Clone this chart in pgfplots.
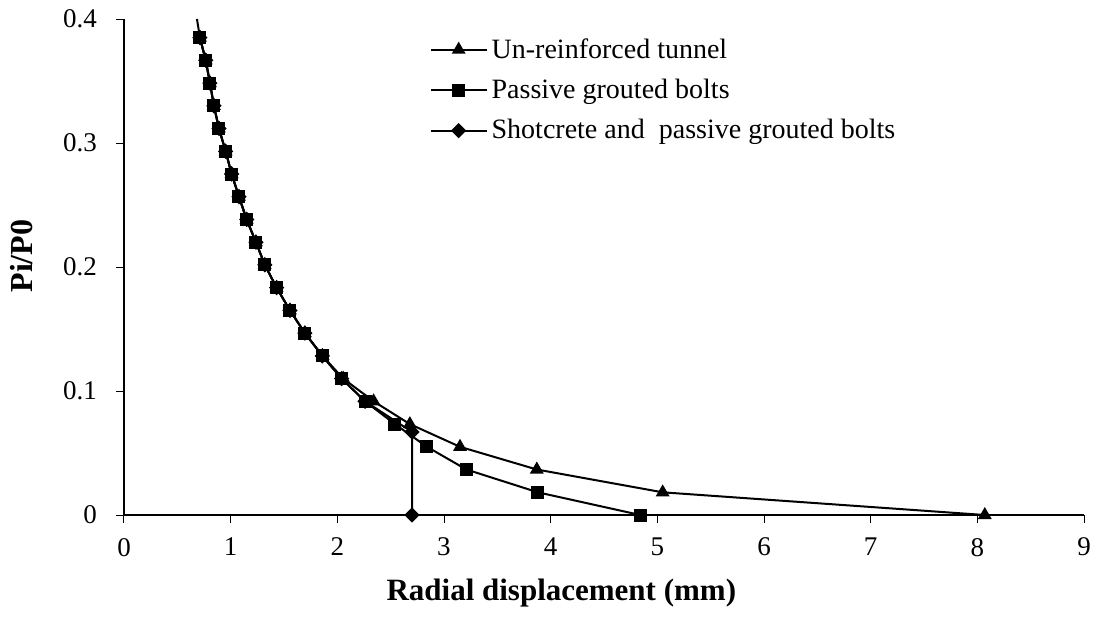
\documentclass[border=0pt]{standalone}
\usepackage{fontspec}
\setmainfont{Liberation Serif}
\usepackage{pgfplots}
\pgfplotsset{compat=1.18}

\begin{document}
\begin{tikzpicture}
\begin{axis}[
    at={(0,0)}, anchor=south west,
    scale only axis, width=480pt, height=248pt,
    xmin=0, xmax=9, ymin=0, ymax=0.4,
    xtick={0,1,...,9}, ytick={0,0.1,0.2,0.3,0.4},
    axis lines=left, axis line style={-, line width=0.8pt, black},
    tick align=outside, major tick length=4pt,
    tick style={black, line width=0.5pt},
    /pgf/number format/assume math mode=true,
    /pgf/number format/fixed,
    tick label style={font=\fontsize{13.5}{15}\selectfont, black},
    xticklabel style={yshift=-4pt},
    yticklabel style={xshift=-6pt},
    xlabel={Radial displacement (mm)},
    ylabel={Pi/P0},
    xlabel style={font=\fontsize{15.5}{18}\selectfont\bfseries, at={(axis cs:4.1,0)}, anchor=center, yshift=-39pt},
    ylabel style={font=\fontsize{16}{18}\selectfont\bfseries, at={(axis description cs:-0.10625,0.522)}, anchor=center},
    legend style={at={(axis description cs:0.318,0.97)}, anchor=north west,
        draw=none, fill=none, inner sep=0pt, row sep=5pt,
        font=\fontsize{14}{16}\selectfont},
    legend cell align=left,
    legend image code/.code={\draw[mark repeat=2,mark phase=2] plot coordinates {(0pt,0pt)(14pt,0pt)(28pt,0pt)};},
    every axis plot/.append style={line width=1pt, black},
    clip=false,
]
\addplot[mark=triangle*, mark size=3pt] coordinates {
  (0.712,0.3850) (0.766,0.3667) (0.806,0.3483) (0.843,0.3300) (0.890,0.3117)
  (0.953,0.2933) (1.009,0.2750) (1.078,0.2567) (1.150,0.2383) (1.237,0.2200)
  (1.320,0.2017) (1.431,0.1833) (1.556,0.1650) (1.696,0.1467) (1.862,0.1283)
  (2.055,0.1100) (2.340,0.0917) (2.680,0.0733) (3.150,0.0550) (3.870,0.0367)
  (5.050,0.0183) (8.070,0.0000)};
\addlegendentry{Un-reinforced tunnel}
\addplot[mark=square*, mark size=2.75pt] coordinates {
  (0.712,0.3850) (0.766,0.3667) (0.806,0.3483) (0.843,0.3300) (0.890,0.3117)
  (0.953,0.2933) (1.009,0.2750) (1.078,0.2567) (1.150,0.2383) (1.237,0.2200)
  (1.320,0.2017) (1.431,0.1833) (1.556,0.1650) (1.696,0.1467) (1.859,0.1283)
  (2.040,0.1100) (2.260,0.0917) (2.540,0.0733) (2.840,0.0550) (3.210,0.0367)
  (3.880,0.0183) (4.840,0.0000)};
\addlegendentry{Passive grouted bolts}
\addplot[mark=square*, mark size=2.2pt, mark options={rotate=45}] coordinates {
  (0.712,0.3850) (0.766,0.3667) (0.806,0.3483) (0.843,0.3300) (0.890,0.3117)
  (0.953,0.2933) (1.009,0.2750) (1.078,0.2567) (1.150,0.2383) (1.237,0.2200)
  (1.320,0.2017) (1.431,0.1833) (1.556,0.1650) (1.696,0.1467) (1.859,0.1283)
  (2.040,0.1100) (2.260,0.0917) (2.700,0.0670) (2.700,0.0000)};
\addlegendentry{Shotcrete and\ \ passive grouted bolts}
\addplot[no marks, forget plot] coordinates {(0.684,0.400) (0.712,0.385)};
\end{axis}
\pgfresetboundingbox
\path[use as bounding box] (-62pt,-54pt) rectangle (486pt,257.5pt);
\end{tikzpicture}
\end{document}
